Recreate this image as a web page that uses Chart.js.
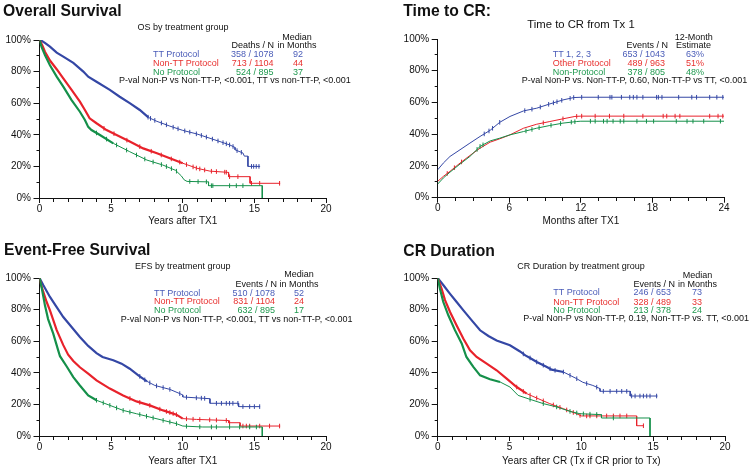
<!DOCTYPE html>
<html>
<head>
<meta charset="utf-8">
<script src="https://cdn.jsdelivr.net/npm/chart.js@4.4.0/dist/chart.umd.min.js"></script>
<style>
    html, body { margin: 0; padding: 0; background: #fff; }
    body { width: 750px; height: 471px; position: relative; overflow: hidden;
           font-family: "Liberation Sans", Arial, sans-serif; color: #111; }
    .panel { position: absolute; width: 375px; }
    .panel canvas { position: absolute; left: 0; top: 0; }
    .t { position: absolute; white-space: nowrap; font-size: 9px; line-height: 10px; }
    .title { position: absolute; white-space: nowrap; font-weight: bold; font-size: 15.7px; line-height: 18px; }
    .c { transform: translateX(-50%); }
    .r { transform: translateX(-100%); }
    .b { color: #4a5cb8; } .rd { color: #e8312f; } .g { color: #1f9a4f; }
</style>
</head>
<body>

<div class="panel" style="left:0;top:0;height:235px">
    <canvas id="cOS" width="375" height="235"></canvas>
    <div class="title" style="left:3px;top:1.5px">Overall Survival</div>
    <div class="t c" style="left:183px;top:21.7px">OS by treatment group</div>
    <div class="t c" style="left:297px;top:31.5px">Median</div>
    <div class="t r" style="left:274px;top:40.3px">Deaths / N</div>
    <div class="t c" style="left:297px;top:40.3px">in Months</div>
    <div class="t b" style="left:153px;top:49px">TT Protocol</div>
    <div class="t b r" style="left:273.5px;top:49px">358 / 1078</div>
    <div class="t b c" style="left:298px;top:49px">92</div>
    <div class="t rd" style="left:153px;top:57.7px">Non-TT Protocol</div>
    <div class="t rd r" style="left:273.5px;top:57.7px">713 / 1104</div>
    <div class="t rd c" style="left:298px;top:57.7px">44</div>
    <div class="t g" style="left:153px;top:66.5px">No Protocol</div>
    <div class="t g r" style="left:273.5px;top:66.5px">524 / 895</div>
    <div class="t g c" style="left:298px;top:66.5px">37</div>
    <div class="t" style="left:119px;top:75.3px">P-val Non-P vs Non-TT-P, &lt;0.001, TT vs non-TT-P, &lt;0.001</div>
</div>

<div class="panel" style="left:375px;top:0;height:235px">
    <canvas id="cCR" width="375" height="235"></canvas>
    <div class="title" style="left:28.3px;top:1.5px">Time to CR:</div>
    <div class="t c" style="left:206px;top:18px;font-size:11.3px;line-height:12px">Time to CR from Tx 1</div>
    <div class="t c" style="left:318.7px;top:31.7px">12-Month</div>
    <div class="t r" style="left:293px;top:40.3px">Events / N</div>
    <div class="t c" style="left:318.5px;top:40.3px">Estimate</div>
    <div class="t b" style="left:177.7px;top:49px">TT 1, 2, 3</div>
    <div class="t b r" style="left:290px;top:49px">653 / 1043</div>
    <div class="t b c" style="left:320px;top:49px">63%</div>
    <div class="t rd" style="left:177.7px;top:57.7px">Other Protocol</div>
    <div class="t rd r" style="left:290px;top:57.7px">489 / 963</div>
    <div class="t rd c" style="left:320px;top:57.7px">51%</div>
    <div class="t g" style="left:177.7px;top:66.5px">Non-Protocol</div>
    <div class="t g r" style="left:290px;top:66.5px">378 / 805</div>
    <div class="t g c" style="left:320px;top:66.5px">48%</div>
    <div class="t" style="left:146.7px;top:75.3px">P-val Non-P vs. Non-TT-P, 0.60, Non-TT-P vs TT, &lt;0.001</div>
</div>

<div class="panel" style="left:0;top:235px;height:236px">
    <canvas id="cEFS" width="375" height="236"></canvas>
    <div class="title" style="left:4px;top:6.2px">Event-Free Survival</div>
    <div class="t c" style="left:182.7px;top:25.7px">EFS by treatment group</div>
    <div class="t c" style="left:299px;top:34.3px">Median</div>
    <div class="t r" style="left:277px;top:43.8px">Events / N</div>
    <div class="t c" style="left:299px;top:43.8px">in Months</div>
    <div class="t b" style="left:154px;top:52.7px">TT Protocol</div>
    <div class="t b r" style="left:275px;top:52.7px">510 / 1078</div>
    <div class="t b c" style="left:299px;top:52.7px">52</div>
    <div class="t rd" style="left:154px;top:61.2px">Non-TT Protocol</div>
    <div class="t rd r" style="left:275px;top:61.2px">831 / 1104</div>
    <div class="t rd c" style="left:299px;top:61.2px">24</div>
    <div class="t g" style="left:154px;top:70px">No Protocol</div>
    <div class="t g r" style="left:275px;top:70px">632 / 895</div>
    <div class="t g c" style="left:299px;top:70px">17</div>
    <div class="t" style="left:120.7px;top:79px">P-val Non-P vs Non-TT-P, &lt;0.001, TT vs non-TT-P, &lt;0.001</div>
</div>

<div class="panel" style="left:375px;top:235px;height:236px">
    <canvas id="cCRD" width="375" height="236"></canvas>
    <div class="title" style="left:28.3px;top:7.2px">CR Duration</div>
    <div class="t c" style="left:206px;top:25.7px">CR Duration by treatment group</div>
    <div class="t c" style="left:322.5px;top:35px">Median</div>
    <div class="t r" style="left:300px;top:44px">Events / N</div>
    <div class="t c" style="left:322.5px;top:44px">in Months</div>
    <div class="t b" style="left:178.3px;top:52.3px">TT Protocol</div>
    <div class="t b r" style="left:296px;top:52.3px">246 / 653</div>
    <div class="t b c" style="left:322px;top:52.3px">73</div>
    <div class="t rd" style="left:178.3px;top:61.5px">Non-TT Protocol</div>
    <div class="t rd r" style="left:296px;top:61.5px">328 / 489</div>
    <div class="t rd c" style="left:322px;top:61.5px">33</div>
    <div class="t g" style="left:178.3px;top:70px">No Protocol</div>
    <div class="t g r" style="left:296px;top:70px">213 / 378</div>
    <div class="t g c" style="left:322px;top:70px">24</div>
    <div class="t" style="left:148.3px;top:78.3px">P-val Non-P vs Non-TT-P, 0.19, Non-TT-P vs. TT, &lt;0.001</div>
</div>

<script>
// Overall survival (years, % alive)
const osTT_t = [0, 0.15, 0.4, 0.73, 1.2, 1.66, 2.36, 3.06, 3.4, 3.98, 4.91, 5.6, 6.3, 7.0, 7.6, 8.2, 9.1, 10.0, 11.0, 11.9, 12.6, 13.3, 13.65, 13.65, 14.2, 14.3, 14.55, 14.55, 15.4];
const osTT_s = [100, 99.5, 98, 95.8, 92, 89.5, 85.5, 80, 76.8, 73.6, 68.4, 64.1, 60, 55.7, 51, 48.5, 45.5, 42.8, 40.5, 37.8, 35.7, 33.5, 32, 30.5, 28.5, 26.5, 26.5, 20, 20];
const osTT_c = [7.58, 7.75, 8.05, 8.51, 8.86, 9.33, 9.67, 10.14, 10.49, 10.95, 11.3, 11.65, 12.07, 12.46, 12.81, 13.04, 13.27, 13.51, 13.79, 14.09, 14.8, 14.95, 15.13, 15.32];
const osNT_t = [0, 0.2, 0.38, 0.73, 1.2, 1.66, 2.24, 2.82, 3.17, 3.5, 3.98, 4.68, 5.38, 6.3, 7.24, 8.2, 9.1, 10.0, 11.0, 11.9, 13.2, 13.2, 14.7, 14.7, 16.8];
const osNT_s = [100, 96.5, 92.6, 87, 81.5, 75.7, 68.4, 61, 55.7, 50.4, 47.3, 43, 39.9, 35.7, 31.4, 28.3, 25.1, 22, 18.8, 17, 16.2, 13.5, 13.5, 9.3, 9.3];
const osNT_c = [4.5, 5.2, 6.1, 7.0, 7.8, 8.5, 9.2, 9.79, 10.26, 10.72, 10.95, 11.19, 11.53, 12.0, 12.35, 12.93, 13.04, 13.27, 13.85, 14.8, 15.37, 16.76];
const osNP_t = [0, 0.15, 0.38, 0.73, 1.2, 1.66, 2.24, 2.82, 3.17, 3.4, 3.63, 4.22, 5.15, 6.3, 7.5, 8.6, 9.5, 9.9, 10.1, 10.3, 11.8, 11.8, 15.55, 15.55];
const osNP_s = [100, 95.5, 90.5, 84, 76.8, 70.5, 62, 54.6, 49.4, 45, 43, 39.9, 34.6, 29.3, 24, 20.9, 17.5, 14, 11.5, 10.5, 10.2, 7.8, 7.8, 0];
const osNP_c = [3.98, 4.68, 5.38, 6.08, 6.77, 7.35, 7.93, 8.51, 8.86, 9.21, 9.56, 10.49, 11.07, 11.65, 12.0, 12.1, 13.27, 13.74, 14.2];

// Time to CR (months, cumulative %)
const crTT_t = [0, 0.47, 1.03, 1.87, 2.7, 3.55, 4.4, 5.2, 6.06, 7.2, 8.3, 9.4, 10.5, 11.4, 12.07, 24];
const crTT_s = [17.6, 21.8, 26, 30.2, 34.4, 38.6, 42.5, 47.5, 51.2, 54.7, 56.4, 59.1, 61.6, 63.1, 63.3, 63.3];
const crTT_c = [3.9, 4.3, 4.6, 5.2, 7.3, 7.9, 8.6, 9.3, 9.7, 10.0, 10.4, 11.1, 11.4, 12.07, 13.46, 14.44, 14.6, 15.4, 16.1, 16.4, 16.7, 17.2, 18.35, 18.5, 18.8, 20.2, 21.3, 21.7, 22.8, 23.4, 23.9];
const crOT_t = [0, 0.47, 1.03, 1.87, 2.7, 3.55, 4.4, 5.2, 6.06, 7.2, 8.3, 9.4, 10.5, 11.5, 12.0, 24];
const crOT_s = [10.3, 13.4, 16.6, 21.8, 26.6, 31.2, 35, 37.1, 39.6, 43.8, 46.3, 48, 49.7, 51.2, 51.4, 51.4];
const crOT_c = [0.8, 1.4, 2.0, 8.85, 10.5, 11.65, 12.07, 13.2, 14.4, 15.6, 17.2, 18.9, 19.2, 19.9, 20.3, 22.8, 23.5, 23.9];
const crNP_t = [0, 0.47, 1.03, 1.87, 2.7, 3.55, 4.4, 5.2, 6.06, 7.2, 8.3, 9.4, 10.5, 11.65, 12.0, 24];
const crNP_s = [8.6, 12.4, 16.1, 21.2, 26, 32.3, 35.8, 37.5, 39.6, 41.7, 43.8, 45.5, 47, 48, 48.2, 48.2];
const crNP_c = [3.3, 3.55, 3.8, 7.4, 7.9, 8.5, 9.5, 10.3, 11.2, 11.5, 12.8, 13.2, 13.9, 14.2, 14.7, 15.3, 15.6, 16.7, 17.5, 18.1, 20, 20.9, 21.4, 22.3, 23.7];

// Event-free survival (years, %)
const efsTT_t = [0, 0.27, 0.73, 1.2, 1.66, 2.24, 2.82, 3.4, 3.98, 4.4, 5.15, 5.73, 6.3, 6.9, 7.5, 8.05, 9.1, 9.8, 10.0, 10.0, 11.9, 11.9, 13.9, 13.9, 15.4];
const efsTT_s = [100, 95.4, 88, 81.6, 75.3, 69, 62.7, 57, 52.5, 50, 47.9, 45.8, 42.6, 38.4, 34.6, 32, 29.5, 26.8, 26, 24.7, 23.6, 20.7, 20.7, 18.6, 18.6];
const efsTT_c = [7.0, 7.35, 7.7, 8.17, 8.63, 9.1, 9.79, 10.26, 10.95, 11.3, 11.53, 12.35, 12.7, 13.04, 13.27, 13.5, 13.85, 14.2, 14.67, 15.0, 15.37];
const efsNT_t = [0, 0.1, 0.27, 0.5, 0.73, 1.2, 1.66, 2.0, 2.36, 2.82, 3.4, 3.98, 4.91, 5.84, 6.77, 7.7, 8.63, 9.56, 10.0, 10.95, 13.2, 13.2, 14.0, 14.0, 16.8];
const efsNT_s = [100, 96, 91, 84.8, 79.5, 67, 57.5, 51.5, 47.5, 43.5, 39.5, 35.2, 30, 25.7, 21.9, 19.4, 16.2, 13.5, 11, 10.5, 9.8, 8.4, 8.4, 6.3, 6.3];
const efsNT_c = [6.31, 7.0, 7.7, 8.4, 8.86, 9.1, 9.33, 9.56, 10.26, 10.72, 11.19, 11.88, 12.35, 13.04, 13.27, 14.2, 14.44, 14.67, 15.37, 16.06, 16.76];
const efsNP_t = [0, 0.15, 0.38, 0.6, 0.96, 1.31, 1.43, 1.9, 2.36, 2.82, 3.4, 3.98, 4.91, 5.84, 6.77, 7.7, 8.63, 9.56, 10.0, 11.4, 15.55, 15.55];
const efsNP_s = [100, 94, 82.7, 74, 64.8, 54, 50.5, 44, 37.3, 32, 25.7, 22.6, 19.4, 16.2, 14.1, 12, 9.9, 7.8, 6.3, 5.7, 5.7, 0];
const efsNP_c = [3.98, 4.45, 4.91, 5.38, 5.84, 6.31, 7.0, 7.47, 7.93, 8.63, 9.1, 9.56, 10.26, 11.19, 12.0, 12.35, 13.27, 13.97, 14.67, 15.14];

// CR duration (years, %)
const crdTT_t = [0, 0.4, 0.86, 1.32, 1.79, 2.37, 2.95, 3.53, 4.1, 5.03, 5.73, 6.1, 6.43, 6.9, 7.6, 7.93, 8.75, 9.67, 10.1, 10.8, 11.3, 11.3, 13.4, 13.4, 15.3];
const crdTT_s = [100, 95.4, 90, 84.8, 79.5, 73.2, 66.9, 63.3, 60.5, 57.4, 53.5, 51, 49.4, 46.8, 43.7, 42, 40.5, 36.3, 34, 32, 30, 28.3, 28.3, 25.3, 25.3];
const crdTT_c = [5.96, 6.43, 6.89, 7.35, 7.82, 8.17, 8.75, 9.21, 9.68, 10.37, 11.07, 11.53, 12.0, 12.46, 12.81, 13.16, 13.5, 13.74, 14.08, 14.32, 14.55, 14.78, 15.24];
const crdNT_t = [0, 0.28, 0.51, 0.86, 1.32, 1.79, 2.25, 2.71, 3.41, 4.1, 4.8, 5.5, 6.2, 6.9, 7.8, 8.75, 9.67, 10.0, 13.85, 13.85, 14.35];
const crdNT_s = [100, 93, 86, 78.5, 70, 61.6, 54.2, 50, 45.8, 41.6, 36.3, 31, 26.8, 24, 20.5, 17.3, 14.1, 12.7, 12.7, 6.5, 6.5];
const crdNT_c = [5.5, 5.96, 6.43, 6.89, 7.35, 8.05, 8.51, 8.98, 9.44, 9.91, 10.37, 10.6, 11.07, 11.76, 12.23, 12.69, 13.16, 14.32];
const crdNP_t = [0, 0.16, 0.39, 0.74, 1.2, 1.67, 2.0, 2.48, 2.95, 3.64, 4.34, 5.03, 5.6, 6.43, 7.35, 8.28, 9.2, 9.9, 11.4, 11.4, 14.78, 14.78];
const crdNP_s = [100, 93, 84.8, 76.4, 67, 58.6, 50, 43.7, 38.4, 35.9, 34.2, 31, 25.7, 23.2, 20.5, 18.4, 15.6, 14.1, 13.5, 11.4, 11.4, 0];
const crdNP_c = [6.43, 7.35, 8.28, 9.21, 9.68, 10.14, 10.6, 11.07, 12.23];

const yTicks = [0, 20, 40, 60, 80, 100];

const BLUE = '#3447a5', RED = '#e8222b', GREEN = '#15904a', INK = '#111';
Chart.defaults.font.family = '"Liberation Sans", Arial, sans-serif';

// curve value at time t (for placing censor marks on the line)
function valueAt(xs, ys, t) {
    let i = 0;
    while (i < xs.length - 1 && xs[i + 1] <= t) i++;
    if (i >= xs.length - 1) return ys[ys.length - 1];
    const f = (t - xs[i]) / (xs[i + 1] - xs[i]);
    return ys[i] + f * (ys[i + 1] - ys[i]);
}

function isMult(v, m) {
    return Math.abs(v / m - Math.round(v / m)) < 1e-6;
}

function seriesSets(s) {
    return [{
        data: s.t.map((x, i) => ({ x, y: s.s[i] })),
        borderColor: s.color, borderWidth: 1, pointRadius: 0, tension: 0, fill: false,
        segment: { borderWidth: ctx => ctx.p0.parsed.x < s.bold ? 2.2 : 1 }
    }, {
        data: s.c.map(t => ({ x: t, y: valueAt(s.t, s.s, t) })),
        showLine: false, pointStyle: 'line', rotation: 90, pointRadius: 2.3, pointHoverRadius: 0,
        borderColor: s.color, pointBorderColor: s.color, pointBorderWidth: 1
    }];
}

function makeChart(id, p) {
    const datasets = [];
    p.series.forEach(s => datasets.push(...seriesSets(s)));
    return new Chart(document.getElementById(id), {
        type: 'line',
        data: { datasets },
        options: {
            responsive: false, animation: false,
            layout: { padding: p.pad },
            plugins: { legend: { display: false }, tooltip: { enabled: false } },
            scales: {
                x: {
                    type: 'linear', min: 0, max: p.xMax,
                    afterFit: sc => { sc.height = p.xH; },
                    ticks: { stepSize: p.xStep, autoSkip: false, maxRotation: 0, padding: 0, color: INK, font: { size: 10 },
                             callback: v => isMult(v, p.xLab) ? v : '' },
                    grid: { drawOnChartArea: false, tickLength: 5, tickColor: INK, tickWidth: 1,
                            tickBorderDash: c => (c.tick && !isMult(c.tick.value, p.xLab)) ? [3, 20] : [] },
                    border: { display: true, color: INK, width: 1 },
                    title: { display: true, text: p.xTitle, color: INK, font: { size: 10 }, padding: { top: 0, bottom: p.titlePad } }
                },
                y: {
                    min: 0, max: 100,
                    afterFit: sc => { sc.width = p.yW; },
                    ticks: { stepSize: 10, autoSkip: false, padding: 2.5, color: INK, font: { size: 10 },
                             callback: v => yTicks.includes(v) ? v + '%' : '' },
                    grid: { drawOnChartArea: false, tickLength: 6, tickColor: INK, tickWidth: 1,
                            tickBorderDash: c => (c.tick && !yTicks.includes(c.tick.value)) ? [0, 3, 3, 20] : [] },
                    border: { display: true, color: INK, width: 1 }
                }
            }
        }
    });
}

makeChart('cOS', {
    xMax: 20, xStep: 1, xLab: 5, xTitle: 'Years after TX1', yW: 39.5, xH: 37, titlePad: 8,
    pad: { left: 0, right: 49, top: 40, bottom: 0 },
    series: [
        { t: osNP_t, s: osNP_s, c: osNP_c, color: GREEN, bold: 4.5 },
        { t: osNT_t, s: osNT_s, c: osNT_c, color: RED, bold: 10 },
        { t: osTT_t, s: osTT_s, c: osTT_c, color: BLUE, bold: 7.5 }
    ]
});

makeChart('cCR', {
    xMax: 24, xStep: 1.5, xLab: 6, xTitle: 'Months after TX1', yW: 62.7, xH: 37.3, titlePad: 8,
    pad: { left: 0, right: 26, top: 39, bottom: 0 },
    series: [
        { t: crNP_t, s: crNP_s, c: crNP_c, color: GREEN, bold: 0 },
        { t: crOT_t, s: crOT_s, c: crOT_c, color: RED, bold: 0 },
        { t: crTT_t, s: crTT_s, c: crTT_c, color: BLUE, bold: 0 }
    ]
});

makeChart('cEFS', {
    xMax: 20, xStep: 1, xLab: 5, xTitle: 'Years after TX1', yW: 39.5, xH: 35, titlePad: 4,
    pad: { left: 0, right: 49, top: 43, bottom: 0 },
    series: [
        { t: efsNP_t, s: efsNP_s, c: efsNP_c, color: GREEN, bold: 3.5 },
        { t: efsNT_t, s: efsNT_s, c: efsNT_c, color: RED, bold: 10 },
        { t: efsTT_t, s: efsTT_s, c: efsTT_c, color: BLUE, bold: 7.5 }
    ]
});

makeChart('cCRD', {
    xMax: 20, xStep: 1, xLab: 5, xTitle: 'Years after CR (Tx if CR prior to Tx)', yW: 62.7, xH: 35, titlePad: 4,
    pad: { left: 0, right: 25, top: 43, bottom: 0 },
    series: [
        { t: crdNP_t, s: crdNP_s, c: crdNP_c, color: GREEN, bold: 4 },
        { t: crdNT_t, s: crdNT_s, c: crdNT_c, color: RED, bold: 6 },
        { t: crdTT_t, s: crdTT_s, c: crdTT_c, color: BLUE, bold: 8 }
    ]
});
</script>
</body>
</html>
